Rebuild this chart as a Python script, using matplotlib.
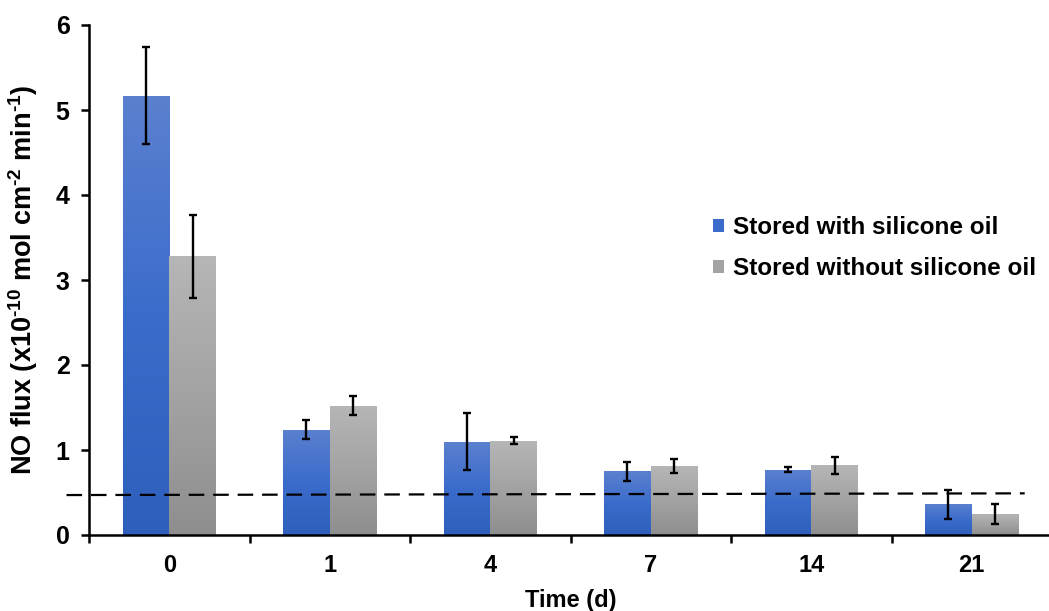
import numpy as np
import matplotlib
matplotlib.use("Agg")
import matplotlib.pyplot as plt
from matplotlib.colors import LinearSegmentedColormap
from matplotlib.patches import Patch

plt.rcParams['font.family'] = ['Liberation Sans', 'DejaVu Sans']
plt.rcParams['font.weight'] = 'bold'
plt.rcParams['mathtext.fontset'] = 'custom'
plt.rcParams['mathtext.rm'] = 'Liberation Sans:bold'
plt.rcParams['mathtext.default'] = 'rm'

# Data
days = ["0", "1", "4", "7", "14", "21"]
with_oil = [5.17, 1.24, 1.10, 0.75, 0.77, 0.36]
with_oil_err = [0.57, 0.11, 0.33, 0.11, 0.03, 0.17]
without_oil = [3.28, 1.52, 1.11, 0.81, 0.82, 0.25]
without_oil_err = [0.49, 0.11, 0.04, 0.08, 0.10, 0.12]
series_names = ["Stored with silicone oil", "Stored without silicone oil"]
threshold_x = [-0.64, 5.33]
threshold_y = [0.47, 0.49]

W, H = 1049, 611
fig = plt.figure(figsize=(W / 100, H / 100), dpi=100)
ax = fig.add_axes([89 / W, 76 / H, (1052 - 89) / W, (586 - 76) / H])

blue_cmap = LinearSegmentedColormap.from_list("blue", ["#2e5fbd", "#3b6ccb", "#5b80cf"])
gray_cmap = LinearSegmentedColormap.from_list("gray", ["#8e8e8e", "#a3a3a3", "#b6b6b6"])

x = np.arange(len(days))
width = 0.29


def gradient_bars(xpos, heights, cmap):
    bars = ax.bar(xpos, heights, width, color="none", edgecolor="none", zorder=2)
    grad = np.linspace(0, 1, 256).reshape(-1, 1)
    for b in bars:
        x0, y0 = b.get_x(), b.get_y()
        im = ax.imshow(grad, cmap=cmap, origin="lower", aspect="auto",
                       extent=[x0, x0 + b.get_width(), y0, y0 + b.get_height()],
                       zorder=2)
        im.set_clip_path(b)
    return bars


gradient_bars(x - width / 2, with_oil, blue_cmap)
gradient_bars(x + width / 2, without_oil, gray_cmap)

ax.errorbar(x - width / 2, with_oil, yerr=with_oil_err, fmt="none",
            ecolor="black", elinewidth=1.7, capsize=3, capthick=1.7, zorder=4)
ax.errorbar(x + width / 2, without_oil, yerr=without_oil_err, fmt="none",
            ecolor="black", elinewidth=1.7, capsize=3, capthick=1.7, zorder=4)

ax.plot(threshold_x, threshold_y, color="black", lw=1.6, ls=(0, (7, 4)),
        clip_on=False, zorder=3)

ax.set_xlim(-0.5, len(days) - 0.5)
ax.set_ylim(0, 6)

ax.set_xticks(x)
ax.set_xticklabels(days)
ax.set_xticks(np.arange(-0.5, len(days) - 0.5, 1), minor=True)
ax.tick_params(axis="x", which="major", length=0, pad=14, labelsize=17)
ax.tick_params(axis="x", which="minor", length=6, width=1.8, direction="out")
ax.set_yticks(np.arange(0, 7, 1))
ax.tick_params(axis="y", length=6, width=1.8, direction="out", pad=8, labelsize=18)
for lbl in ax.get_xticklabels() + ax.get_yticklabels():
    lbl.set_fontweight("bold")

for s in ["top", "right"]:
    ax.spines[s].set_visible(False)
for s in ["left", "bottom"]:
    ax.spines[s].set_linewidth(1.8)

ax.set_xlabel("Time (d)", fontsize=17, fontweight="bold", labelpad=8)
ax.set_ylabel(r"NO flux (x10$^{\text{-10}}$ mol cm$^{\text{-2}}$ min$^{\text{-1}}$)",
              fontsize=19.5, fontweight="bold", labelpad=11)

handles = [Patch(facecolor="#3b6ccb"), Patch(facecolor="#a3a3a3")]
ax.legend(handles, series_names, loc="upper left",
          bbox_to_anchor=(703 / W, 405 / H), bbox_transform=fig.transFigure,
          frameon=False, prop={"size": 17.5, "weight": "bold"},
          handlelength=0.45, handleheight=0.45, handletextpad=0.4,
          labelspacing=0.75, borderaxespad=0)

fig.savefig("out.png", dpi=100)
